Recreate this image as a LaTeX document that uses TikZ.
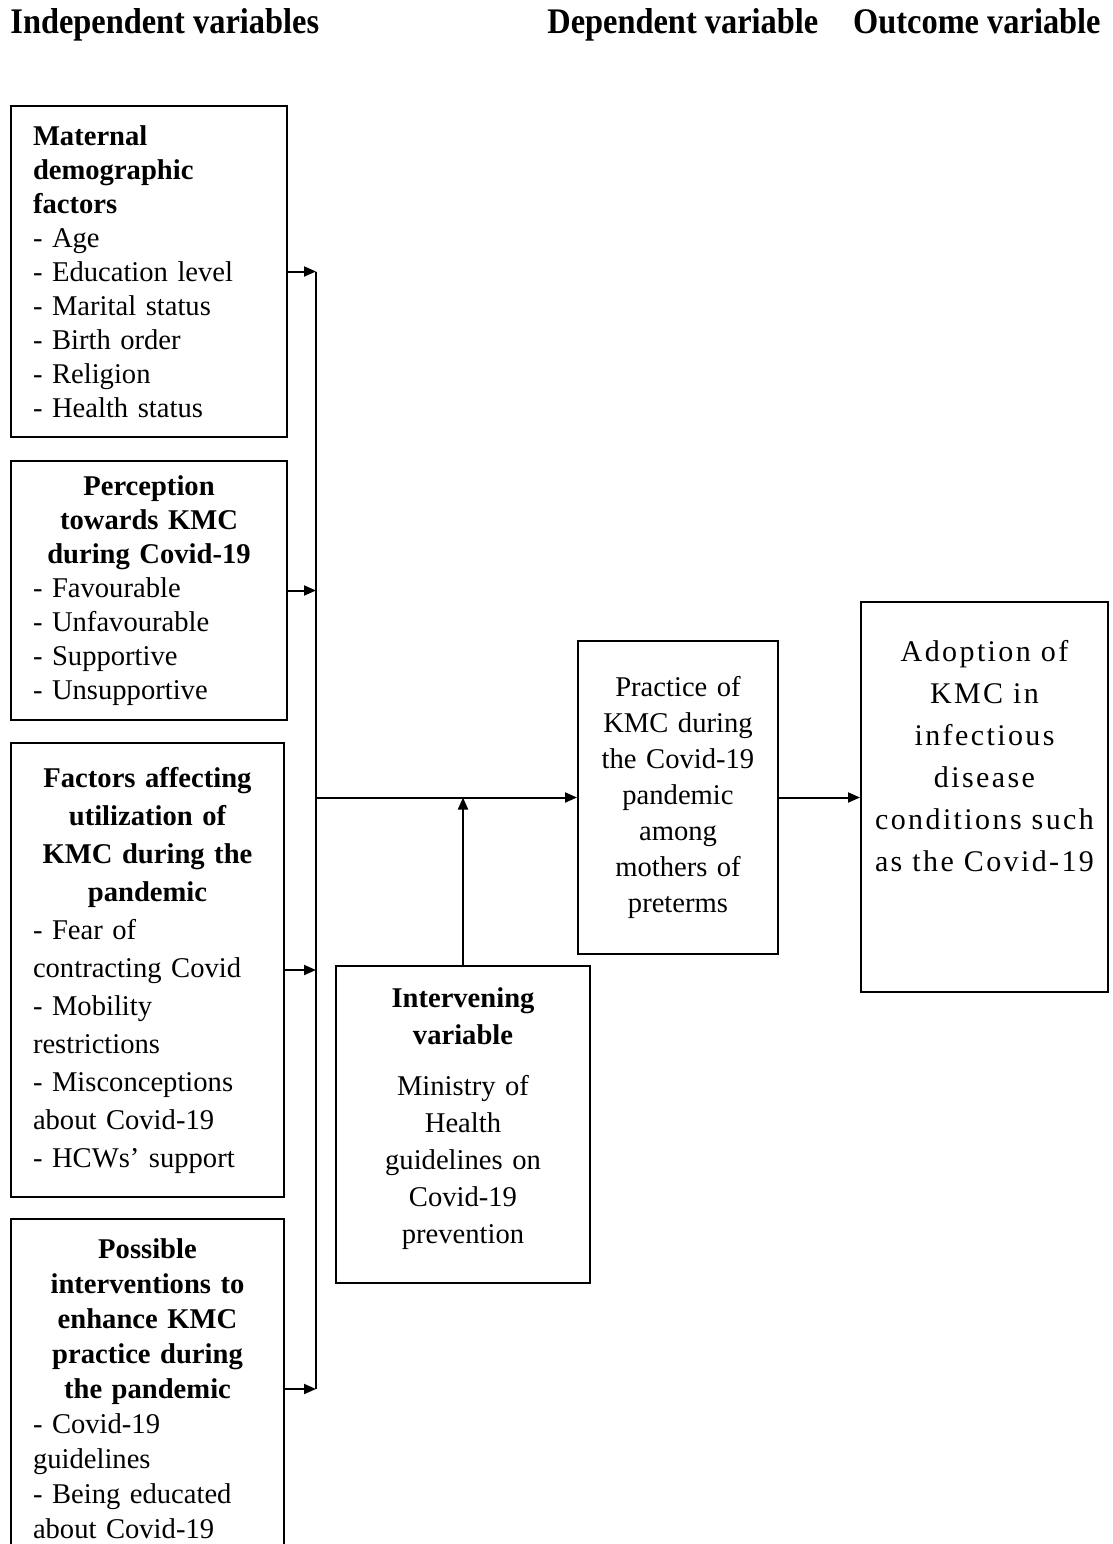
\documentclass[tikz,border=0pt]{standalone}
\usepackage{fontspec}
\setmainfont{Liberation Serif}
\newfontfamily\widefont[LetterSpace=8]{Liberation Serif}
\usetikzlibrary{arrows.meta}

\tikzset{
  varbox/.style={draw, line width=1pt, anchor=north west, inner xsep=11pt, inner ysep=4pt,
    align=left, font=\fontsize{14.3}{17}\selectfont},
  midbox/.style={varbox, align=center, inner xsep=6pt},
  link/.style={line width=1pt, -{Triangle[length=6pt,width=5pt]}},
  rail/.style={line width=1pt},
  colhead/.style={inner sep=0pt, font=\fontsize{18}{20}\selectfont\bfseries}
}
\newcommand{\headtext}[1]{\scalebox{0.9}[1]{#1}}

\begin{document}
\begin{tikzpicture}[x=0.5pt, y=-0.5pt]
\useasboundingbox (0,0) rectangle (1113,1544);

\node[colhead, anchor=base west] (indhead) at (10,33) {\headtext{Independent variables}};
\node[colhead, anchor=base west] (dephead) at (547,33) {\headtext{Dependent variable}};
\node[colhead, anchor=base east] (outhead) at (1101,33) {\headtext{Outcome variable}};

\node[varbox, minimum width=138pt, minimum height=165.5pt, text width=116pt] (demog) at (10,105)
  {\textbf{Maternal}\\ \textbf{demographic}\\ \textbf{factors}\\ - Age\\ - Education level\\
   - Marital status\\ - Birth order\\ - Religion\\ - Health status};
\node[varbox, minimum width=138pt, minimum height=129.5pt, text width=116pt] (percept) at (10,460)
  {{\centering\bfseries Perception\\ towards KMC\\ during Covid-19\par}
   - Favourable\\ - Unfavourable\\ - Supportive\\ - Unsupportive};
\node[varbox, minimum width=136.5pt, minimum height=227pt, text width=114.5pt,
  font=\fontsize{14.3}{19}\selectfont] (factors) at (10,742)
  {{\centering\bfseries Factors affecting\\ utilization of\\ KMC during the\\ pandemic\par}
   - Fear of\\ contracting Covid\\ - Mobility\\ restrictions\\ - Misconceptions\\
   about Covid-19\\ - HCWs' support};
\node[varbox, minimum width=136.5pt, minimum height=170pt, text width=114.5pt,
  font=\fontsize{14.3}{17.5}\selectfont] (possible) at (10,1218)
  {{\centering\bfseries Possible\\ interventions to\\ enhance KMC\\ practice during\\ the pandemic\par}
   - Covid-19\\ guidelines\\ - Being educated\\ about Covid-19};

\node[midbox, minimum width=127pt, minimum height=158.5pt, text width=115pt, text depth=127pt,
  font=\fontsize{14.3}{18.5}\selectfont] (interv) at (335,965)
  {\textbf{Intervening}\\ \textbf{variable}\\[7pt] Ministry of\\ Health\\ guidelines on\\ Covid-19\\ prevention};
\node[midbox, minimum width=100pt, minimum height=156.5pt, text width=88pt,
  font=\fontsize{14.3}{18}\selectfont] (practice) at (577,640)
  {Practice of\\ KMC during\\ the Covid-19\\ pandemic\\ among\\ mothers of\\ preterms};
\node[midbox, minimum width=123.5pt, minimum height=195pt, text width=111pt, inner ysep=19pt,
  text depth=146pt, font=\widefont\fontsize{15}{21}\selectfont] (outcome) at (860,601)
  {Adoption of\\ KMC in\\ infectious\\ disease\\ conditions such\\ as the Covid-19};

\coordinate (railx) at (316,0);
\draw[rail] (demog.east -| railx) -- (possible.east -| railx);
\draw[link] (demog.east) -- (demog.east -| railx);
\draw[link] (percept.east) -- (percept.east -| railx);
\draw[link] (factors.east) -- (factors.east -| railx);
\draw[link] (possible.east) -- (possible.east -| railx);
\draw[link] (practice.west -| railx) -- (practice.west);
\draw[link] (interv.north) -- (interv.north |- practice.west);
\draw[link] (practice.east) -- (outcome.west |- practice.east);

\end{tikzpicture}
\end{document}
